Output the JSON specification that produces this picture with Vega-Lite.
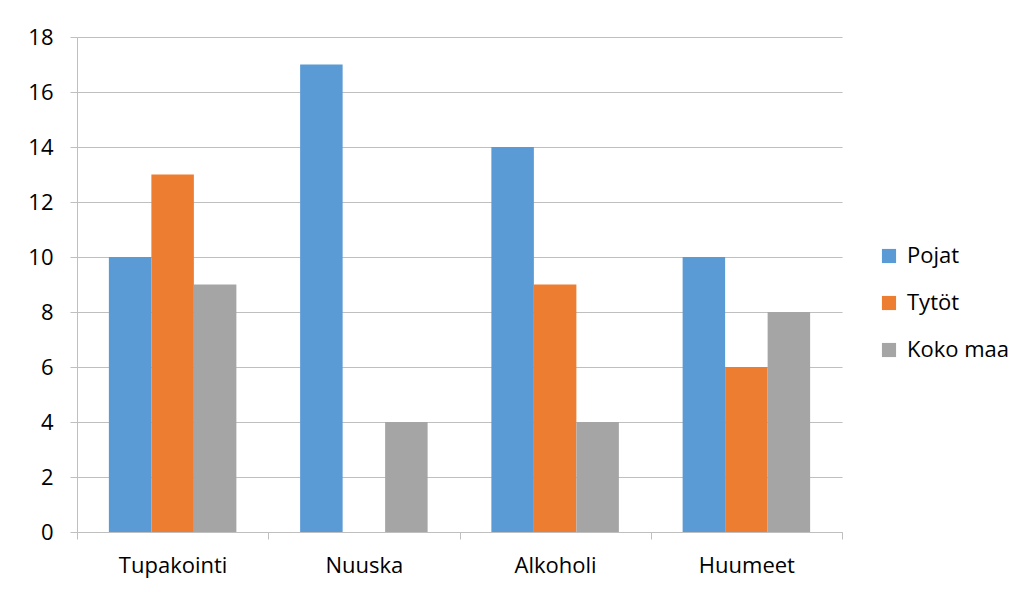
{
  "$schema": "https://vega.github.io/schema/vega-lite/v6.json",
  "autosize": {"type": "none"},
  "width": 765,
  "height": 495,
  "padding": {"left": 77, "top": 37, "right": 184, "bottom": 60},
  "background": "white",
  "data": {"values": [
    {"kategoria": "Tupakointi", "ryhma": "Pojat", "arvo": 10},
    {"kategoria": "Tupakointi", "ryhma": "Tytöt", "arvo": 13},
    {"kategoria": "Tupakointi", "ryhma": "Koko maa", "arvo": 9},
    {"kategoria": "Nuuska", "ryhma": "Pojat", "arvo": 17},
    {"kategoria": "Nuuska", "ryhma": "Tytöt", "arvo": 0},
    {"kategoria": "Nuuska", "ryhma": "Koko maa", "arvo": 4},
    {"kategoria": "Alkoholi", "ryhma": "Pojat", "arvo": 14},
    {"kategoria": "Alkoholi", "ryhma": "Tytöt", "arvo": 9},
    {"kategoria": "Alkoholi", "ryhma": "Koko maa", "arvo": 4},
    {"kategoria": "Huumeet", "ryhma": "Pojat", "arvo": 10},
    {"kategoria": "Huumeet", "ryhma": "Tytöt", "arvo": 6},
    {"kategoria": "Huumeet", "ryhma": "Koko maa", "arvo": 8}
  ]},
  "mark": {"type": "bar"},
  "encoding": {
    "x": {
      "field": "kategoria", "type": "nominal",
      "sort": ["Tupakointi", "Nuuska", "Alkoholi", "Huumeet"],
      "scale": {"paddingInner": 0, "paddingOuter": 0},
      "axis": {
        "title": null, "labelAngle": 0, "grid": false, "domain": true,
        "tickBand": "extent", "tickSize": 7, "tickColor": "#BFBFBF",
        "domainColor": "#BFBFBF", "labelPadding": 16,
        "labelFont": "Open Sans", "labelFontSize": 22, "labelColor": "#000000"
      }
    },
    "xOffset": {
      "field": "ryhma", "type": "nominal",
      "sort": ["Pojat", "Tytöt", "Koko maa"],
      "scale": {"paddingInner": 0, "paddingOuter": 0.75}
    },
    "y": {
      "field": "arvo", "type": "quantitative",
      "scale": {"domain": [0, 18], "nice": false},
      "axis": {
        "title": null, "values": [0, 2, 4, 6, 8, 10, 12, 14, 16, 18],
        "grid": true, "gridColor": "#BFBFBF", "domain": true, "tickSize": 7, "tickColor": "#BFBFBF",
        "domainColor": "#BFBFBF", "labelPadding": 17,
        "labelFont": "Open Sans", "labelFontSize": 22, "labelColor": "#000000"
      }
    },
    "color": {
      "field": "ryhma", "type": "nominal",
      "sort": ["Pojat", "Tytöt", "Koko maa"],
      "scale": {"domain": ["Pojat", "Tytöt", "Koko maa"], "range": ["#5B9BD5", "#ED7D31", "#A5A5A5"]},
      "legend": {
        "title": null, "orient": "none", "legendX": 801, "legendY": 208,
        "symbolType": "square", "symbolSize": 200, "symbolStrokeWidth": 0,
        "rowPadding": 25, "labelFont": "Open Sans", "labelFontSize": 22,
        "labelColor": "#000000", "labelOffset": 7
      }
    }
  },
  "config": {"view": {"stroke": null}}
}
